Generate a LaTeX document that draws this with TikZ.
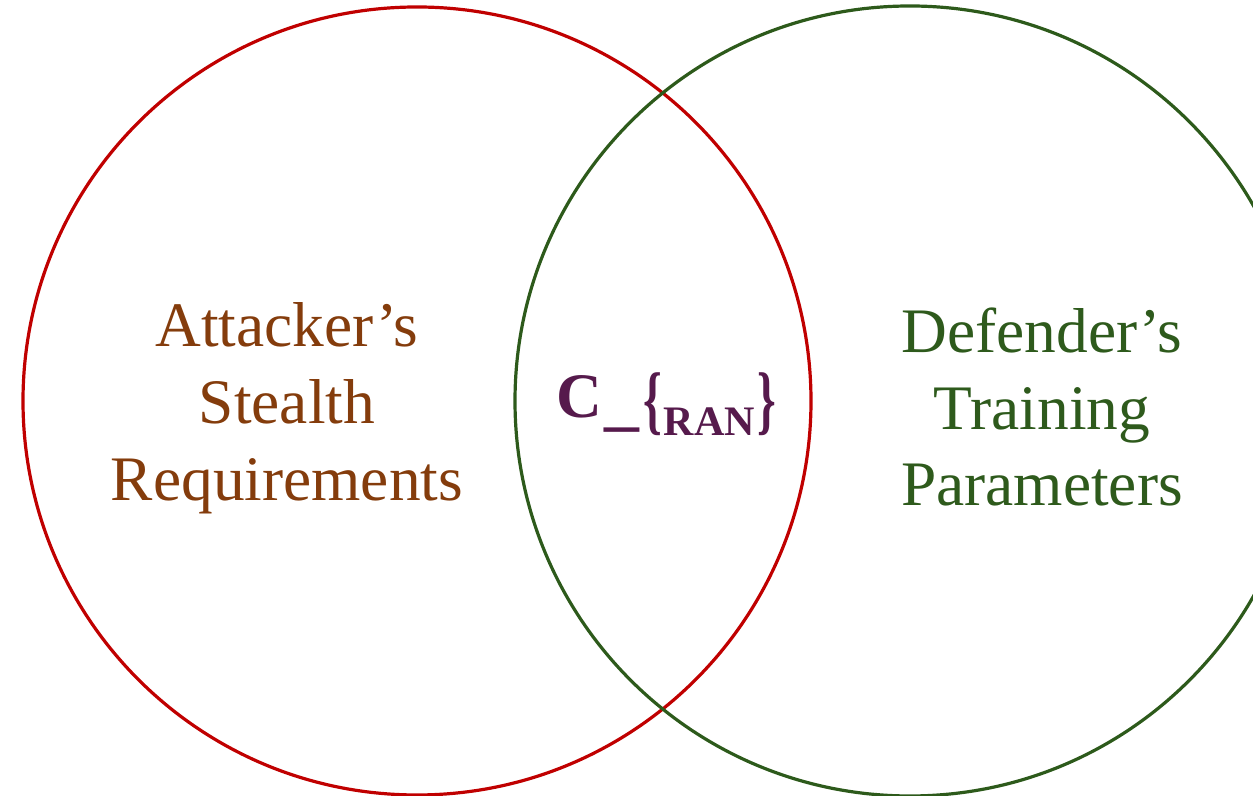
\documentclass[tikz,border=0pt]{standalone}
\usepackage{fontspec}
\setmainfont{Liberation Serif}
\usepackage{graphicx}
\definecolor{redline}{HTML}{C00000}
\definecolor{greenline}{HTML}{2D5A1B}
\definecolor{browntext}{HTML}{843C0C}
\definecolor{greentext}{HTML}{2E5A1C}
\definecolor{purpletext}{HTML}{561A4C}
\tikzset{
  setcircle/.style={line width=1.6pt},
  setlabel/.style={align=center, inner sep=0pt, font=\fontsize{31.7}{38.5}\selectfont},
}
\begin{document}
\begin{tikzpicture}
\useasboundingbox (0,0) rectangle (626.5pt,398pt);
\clip (0,0) rectangle (626.5pt,398pt);
\draw[setcircle, redline] (208.5pt,197.5pt) circle (197pt);
\draw[setcircle, greenline] (455pt,197.5pt) circle (197.5pt);
\node[setlabel, text=browntext] (att) at (143.5pt,194pt) {Attacker’s\\Stealth\\Requirements};
\node[setlabel, text=greentext] (def) at (521pt,194.5pt) {Defender’s\\Training\\Parameters};
\node[anchor=base west, inner sep=0pt, text=purpletext, font=\bfseries\fontsize{31.7}{38}\selectfont] (cran) at (278pt,189pt)
  {C\kern1pt\raisebox{-3pt}{\scalebox{1.1}[1]{\_}}\kern2pt\raisebox{-4pt}{\scalebox{0.75}[1.2]{\{}}\kern1pt\raisebox{-9pt}{\fontsize{21}{22}\selectfont RAN}\kern1.5pt\raisebox{-4pt}{\scalebox{0.75}[1.2]{\}}}};
\end{tikzpicture}
\end{document}
